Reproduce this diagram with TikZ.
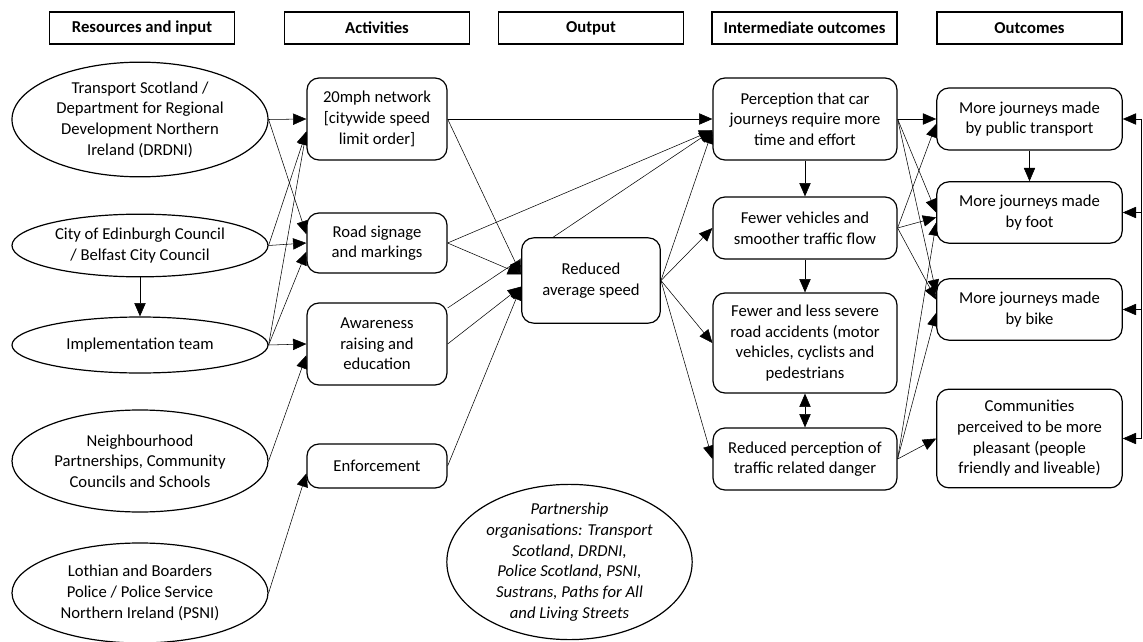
\documentclass[tikz,border=0pt]{standalone}
\usepackage{fontspec}
\setmainfont{Carlito}
\usetikzlibrary{arrows.meta,shapes.geometric,backgrounds}
\newcommand{\Fs}{\fontsize{12.5}{15.5}\selectfont}

\begin{document}
\begin{tikzpicture}[x=0.75pt, y=-0.75pt, line width=0.8pt,
    >={Triangle[length=10pt,width=8.5pt]},
    every node/.style={font=\Fs, align=center},
    head/.style={draw, line width=1.1pt, minimum width=139pt, minimum height=24pt,
                 font=\Fs\bfseries},
    actor/.style={draw, ellipse, line width=0.9pt, fill=white, inner sep=0pt,
                  minimum width=192pt},
    block/.style={draw, line width=0.9pt, fill=white, rounded corners=9pt,
                  inner sep=2pt},
    colact/.style={block, minimum width=105pt},
    colmid/.style={block, minimum width=138pt},
    colfin/.style={block, minimum width=139pt}]
  \useasboundingbox (0,0) rectangle (1143,642);

  % --- column headers ---
  \node[head] (hres) at (142,28)    {Resources and input};
  \node[head] (hact) at (377,28)    {Activities};
  \node[head] (hout) at (591,28)    {Output};
  \node[head] (hmid) at (804.5,28)  {Intermediate outcomes};
  \node[head] (hfin) at (1029.5,28) {Outcomes};

  % --- resources and input ---
  \node[actor, minimum height=86pt] (tran) at (140,119.5)
       {Transport Scotland /\\Department for Regional\\Development Northern\\Ireland (DRDNI)};
  \node[actor, minimum height=47pt] (city) at (140,245.5)
       {City of Edinburgh Council\\/ Belfast City Council};
  \node[actor, minimum height=42pt] (impl) at (140,345) {Implementation team};
  \node[actor, minimum height=76.5pt] (nbh) at (140,461)
       {Neighbourhood\\Partnerships, Community\\Councils and Schools};
  \node[actor, minimum height=75pt] (loth) at (140,593)
       {Lothian and Boarders\\Police / Police Service\\Northern Ireland (PSNI)};

  % --- activities ---
  \node[colact, minimum height=61.5pt] (mph) at (377,119)
       {20mph network\\{[}citywide speed\\limit order{]}};
  \node[colact, minimum height=45pt] (sign) at (377,243) {Road signage\\and markings};
  \node[colact, minimum height=61.5pt] (aware) at (377,344)
       {Awareness\\raising and\\education};
  \node[colact, minimum height=33pt] (enf) at (377,466) {Enforcement};

  % --- output ---
  \node[block, minimum width=104pt, minimum height=64pt] (speed) at (591,280.5)
       {Reduced\\average speed};

  % --- intermediate outcomes ---
  \node[colmid, minimum height=61.5pt] (perc) at (805,119)
       {Perception that car\\journeys require more\\time and effort};
  \node[colmid, minimum height=46.5pt] (fewv) at (805,228)
       {Fewer vehicles and\\smoother traffic flow};
  \node[colmid, minimum height=75pt] (acc) at (805,343)
       {Fewer and less severe\\road accidents (motor\\vehicles, cyclists and\\pedestrians};
  \node[colmid, minimum height=46.5pt] (danger) at (805,459)
       {Reduced perception of\\traffic related danger};

  % --- outcomes ---
  \node[colfin, minimum height=46.5pt] (pubt) at (1029.5,119)
       {More journeys made\\by public transport};
  \node[colfin, minimum height=46pt] (foot) at (1029.5,212.5)
       {More journeys made\\by foot};
  \node[colfin, minimum height=46pt] (bike) at (1029.5,309.5)
       {More journeys made\\by bike};
  \node[colfin, minimum height=74pt] (comm) at (1029.5,438.5)
       {Communities\\perceived to be more\\pleasant (people\\friendly and liveable)};

  % --- partnership note ---
  \node[actor, minimum width=184pt, minimum height=114pt, inner sep=-3pt,
        font=\Fs\itshape] (partner) at (569.5,562)
       {Partnership\\organisations: Transport\\Scotland, DRDNI,\\Police Scotland, PSNI,\\Sustrans, Paths for All\\and Living Streets};

  \begin{scope}[on background layer]
    % --- resources -> activities ---
    \draw[->] (tran.east) -- (mph.west);
    \draw[->] (tran.east) -- (sign.173);
    \draw[->] (city.east) -- (mph.190);
    \draw[->] (city.east) -- (sign.west);
    \draw[->] (city.south) -- (impl.north);
    \draw[->] (impl.east) -- (mph.190);
    \draw[->] (impl.east) -- (sign.187);
    \draw[->] (impl.east) -- (aware.west);
    \draw[->] (nbh.east) -- (aware.189);
    \draw[->] (loth.east) -- (enf.186);

    % --- activities -> output / intermediate ---
    \draw[->] (mph.east) -- (perc.west);
    \draw[->] (mph.east) -- (speed.175);
    \draw[->] (sign.east) -- (perc.187);
    \draw[->] (sign.east) -- (speed.175);
    \draw[->] (aware.27) -- (perc.187);
    \draw[->] (aware.east) -- (speed.185);
    \draw[->] (enf.east) -- (speed.185);

    % --- output -> intermediate ---
    \draw[->] (speed.east) -- (perc.187);
    \draw[->] (speed.east) -- (fewv.west);
    \draw[->] (speed.east) -- (acc.west);
    \draw[->] (speed.east) -- (danger.west);
    \draw[->] (perc.south) -- (fewv.north);
    \draw[->] (fewv.south) -- (acc.north);
    \draw[<->] (acc.south) -- (danger.north);

    % --- intermediate -> outcomes ---
    \draw[->] (perc.east) -- (pubt.west);
    \draw[->] (perc.east) -- (foot.west);
    \draw[->] (perc.east) -- (bike.170);
    \draw[->] (fewv.east) -- (pubt.183);
    \draw[->] (fewv.east) -- (foot.183);
    \draw[->] (fewv.east) -- (bike.174);
    \draw[->] (danger.east) -- (foot.186);
    \draw[->] (danger.east) -- (bike.182);
    \draw[->] (danger.east) -- (comm.west);
    \draw[->] (pubt.south) -- (foot.north);

    % --- feedback rail on the right ---
    \coordinate (rail) at (1141,0);
    \draw (pubt.east -| rail) -- (comm.east -| rail);
    \foreach \n in {pubt,foot,bike,comm}
      \draw[->] (\n.east -| rail) -- (\n.east);
  \end{scope}
\end{tikzpicture}
\end{document}
